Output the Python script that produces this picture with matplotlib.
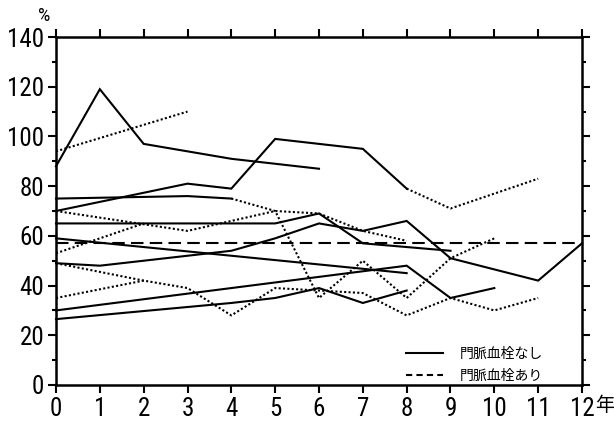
import matplotlib
matplotlib.use("Agg")
import matplotlib.pyplot as plt
from matplotlib.lines import Line2D
from matplotlib.ticker import MultipleLocator

# solid segments (門脈血栓なし)
a_years = [0, 1, 2, 3, 4, 5, 6]
a_vals = [88, 119, 97, 94, 91, 89, 87]
b_years = [0, 3, 4, 5, 6, 7, 8]
b_vals = [70, 81, 79, 99, 97, 95, 79]
c_years = [0, 3, 4]
c_vals = [75, 76, 75]
d_years = [0, 5, 6, 7, 8, 9]
d_vals = [65, 65, 69, 57, 55.5, 54]
f_years = [0, 8]
f_vals = [59, 45]
g_years = [0, 1, 4, 5, 6, 7, 8, 9, 11, 12]
g_vals = [49, 48, 54, 59, 65, 62, 66, 51, 42, 57]
h_years = [0, 8, 9, 10]
h_vals = [30, 48, 35, 39]
k_years = [0, 4, 5, 6, 7, 8]
k_vals = [26.5, 33, 35, 39, 33, 38]

# dotted segments
db_years = [8, 9, 11]
db_vals = [79, 71, 83]
dc_years = [4, 5, 6, 7, 8, 9, 10]
dc_vals = [75, 70, 35, 50, 35, 51, 59]
p1_years = [0, 3]
p1_vals = [94, 110]
p2_years = [0, 3, 4, 5, 6, 7, 8]
p2_vals = [70, 62, 66, 70, 69, 62, 58]
p3_years = [0, 2]
p3_vals = [53, 65]
q1_years = [0, 2, 3, 4, 5, 6, 7, 8, 9, 10, 11]
q1_vals = [49, 42, 39, 28, 39, 38, 37, 28, 35, 30, 35]
q2_years = [0, 2]
q2_vals = [35, 42]

# dashed reference
ref_years = [0, 12]
ref_vals = [57, 57]

legend_labels = ["門脈血栓なし", "門脈血栓あり"]
x_ticks = list(range(13))
y_ticks = list(range(0, 141, 20))

num_font = ["Roboto Condensed", "Liberation Sans", "DejaVu Sans"]
jp_font = ["Noto Sans CJK JP", "DejaVu Sans"]

fig = plt.figure(figsize=(6.14, 4.21), dpi=100)
ax = fig.add_axes([56 / 614, 1 - 385 / 421, 526 / 614, 348 / 421])

solid = [(a_years, a_vals), (b_years, b_vals), (c_years, c_vals), (d_years, d_vals),
         (f_years, f_vals), (g_years, g_vals), (h_years, h_vals), (k_years, k_vals)]
dotted = [(db_years, db_vals), (dc_years, dc_vals), (p1_years, p1_vals), (p2_years, p2_vals),
          (p3_years, p3_vals), (q1_years, q1_vals), (q2_years, q2_vals)]

for xs, ys in solid:
    ax.plot(xs, ys, color="black", lw=1.5, solid_joinstyle="miter", clip_on=False)
for xs, ys in dotted:
    ax.plot(xs, ys, color="black", lw=1.5, linestyle=(0, (1, 1.1)), clip_on=False)
ax.plot(ref_years, ref_vals, color="black", lw=1.5, linestyle=(0, (6, 3)), clip_on=False)

ax.set_xlim(0, 12)
ax.set_ylim(0, 140)
ax.set_xticks(x_ticks)
ax.set_yticks(y_ticks)
ax.yaxis.set_minor_locator(MultipleLocator(10))
for s in ax.spines.values():
    s.set_linewidth(1.8)
ax.tick_params(which="major", direction="out", length=5.5, width=1.5,
               top=True, right=True, labelsize=18, pad=3)
ax.tick_params(which="minor", direction="out", length=3, width=1.5, left=True, right=True)
for lab in ax.get_xticklabels() + ax.get_yticklabels():
    lab.set_family(num_font)

ax.text(-0.01, 1.035, "%", transform=ax.transAxes, ha="right", va="bottom",
        fontsize=14, family=num_font)
ax.text(1.025, -0.03, "年", transform=ax.transAxes, ha="left", va="top",
        fontsize=14, family=jp_font)

handles = [Line2D([], [], color="black", lw=1.5),
           Line2D([], [], color="black", lw=1.5, linestyle=(0, (3, 2)))]
ax.legend(handles, legend_labels, loc="lower right", frameon=False,
          prop={"family": jp_font, "size": 10}, handlelength=2.7,
          handletextpad=1.2, labelspacing=0.6, bbox_to_anchor=(0.95, -0.03))

fig.savefig("out.png", dpi=100)
